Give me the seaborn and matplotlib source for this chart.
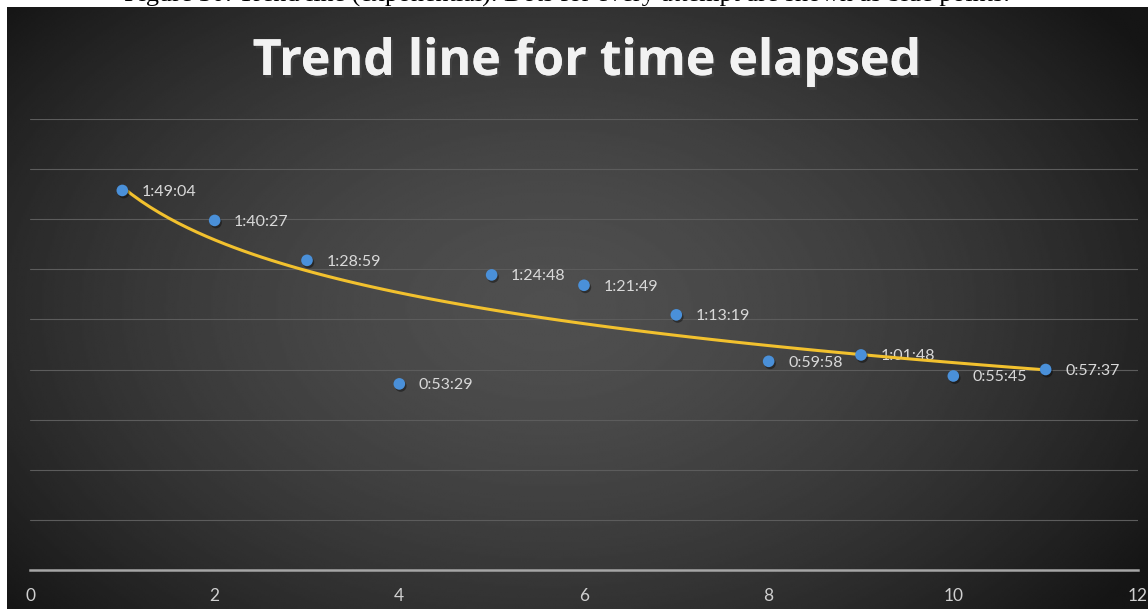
import numpy as np
import pandas as pd
import matplotlib
matplotlib.use('Agg')
import matplotlib.pyplot as plt
import matplotlib.patheffects as pe
import seaborn as sns

# data: attempt number and elapsed time (h:mm:ss)
attempts = [1, 2, 3, 4, 5, 6, 7, 8, 9, 10, 11]
elapsed = ['1:49:04', '1:40:27', '1:28:59', '0:53:29', '1:24:48', '1:21:49',
           '1:13:19', '0:59:58', '1:01:48', '0:55:45', '0:57:37']
x_ticks = [0, 2, 4, 6, 8, 10, 12]

title = 'Trend line for time elapsed'
caption = 'Figure 30: Trend line (exponential). Dots for every attempt are shown as blue points.'


def to_minutes(s):
    h, m, sec = [int(p) for p in s.split(':')]
    return h * 60 + m + sec / 60


df = pd.DataFrame({'attempt': attempts, 'label': elapsed})
df['minutes'] = df['label'].apply(to_minutes)

sns.set_style('dark')
plt.rcParams['font.family'] = ['Lato', 'DejaVu Sans']

W, H = 1148, 609
fig = plt.figure(figsize=(W / 100, H / 100), dpi=100)
fig.patch.set_facecolor('white')

# dark radial-gradient panel behind the chart
bg = fig.add_axes([7 / W, 0, 1 - 7 / W, 1 - 7 / H])
yy, xx = np.mgrid[-1:1:300j, -1:1:600j]
r = np.sqrt(((xx + 0.05) / 1.05) ** 2 + (yy / 1.3) ** 2)
shade = 0.31 - 0.17 * np.clip(r, 0, 1.2) ** 1.6
bg.imshow(shade, cmap='gray', vmin=0, vmax=1, aspect='auto', interpolation='bilinear')
bg.axis('off')

# caption sitting above the panel, mostly cut off (as in the source page)
fig.text(567 / W, 1 - 2 / H, caption, ha='center', va='baseline', fontsize=18.8,
         family=['Liberation Serif', 'DejaVu Serif'], color='black')

ax = fig.add_axes([30 / W, 39 / H, 1108 / W, 451 / H])
ax.set_facecolor('none')

sns.regplot(data=df, x='attempt', y='minutes', logx=True, ci=None, scatter=False,
            ax=ax, line_kws=dict(color='#f2c12e', lw=2.2, zorder=3))
sns.scatterplot(data=df, x='attempt', y='minutes', ax=ax, s=70, color='#4a90d9',
                edgecolor='none', zorder=4)
ax.collections[-1].set_path_effects([
    pe.SimplePatchShadow(offset=(1, -1.5), shadow_rgbFace='black', alpha=0.4),
    pe.Normal()])

for _, row in df.iterrows():
    ax.annotate(row['label'], (row['attempt'], row['minutes']), xytext=(14, -1),
                textcoords='offset points', va='center', ha='left',
                color='#d9d9d9', fontsize=11.5, zorder=2)

ax.set_xlim(0, 12)
ax.set_ylim(0, 129.6)
ax.set_xticks(x_ticks)
ax.set_yticks(np.arange(0, 129.7, 14.4))
ax.tick_params(axis='y', length=0, labelleft=False)
ax.tick_params(axis='x', length=0, pad=13, labelsize=12.5, labelcolor='#d0d0d0')
ax.grid(axis='y', color='#5c5c5c', linewidth=0.8)
ax.grid(axis='x', visible=False)
ax.set_xlabel('')
ax.set_ylabel('')
for side in ['top', 'right', 'left']:
    ax.spines[side].set_visible(False)
ax.spines['bottom'].set_color('#a6a6a6')
ax.spines['bottom'].set_linewidth(1.8)

fig.text(587 / W, 1 - 75 / H, title, ha='center', va='baseline', fontsize=36,
         fontweight='bold', color='#f2f2f2', family=['Open Sans', 'DejaVu Sans'],
         path_effects=[pe.withSimplePatchShadow(offset=(1.5, -2), alpha=0.6), pe.Normal()])

fig.savefig('out.png', dpi=100)
